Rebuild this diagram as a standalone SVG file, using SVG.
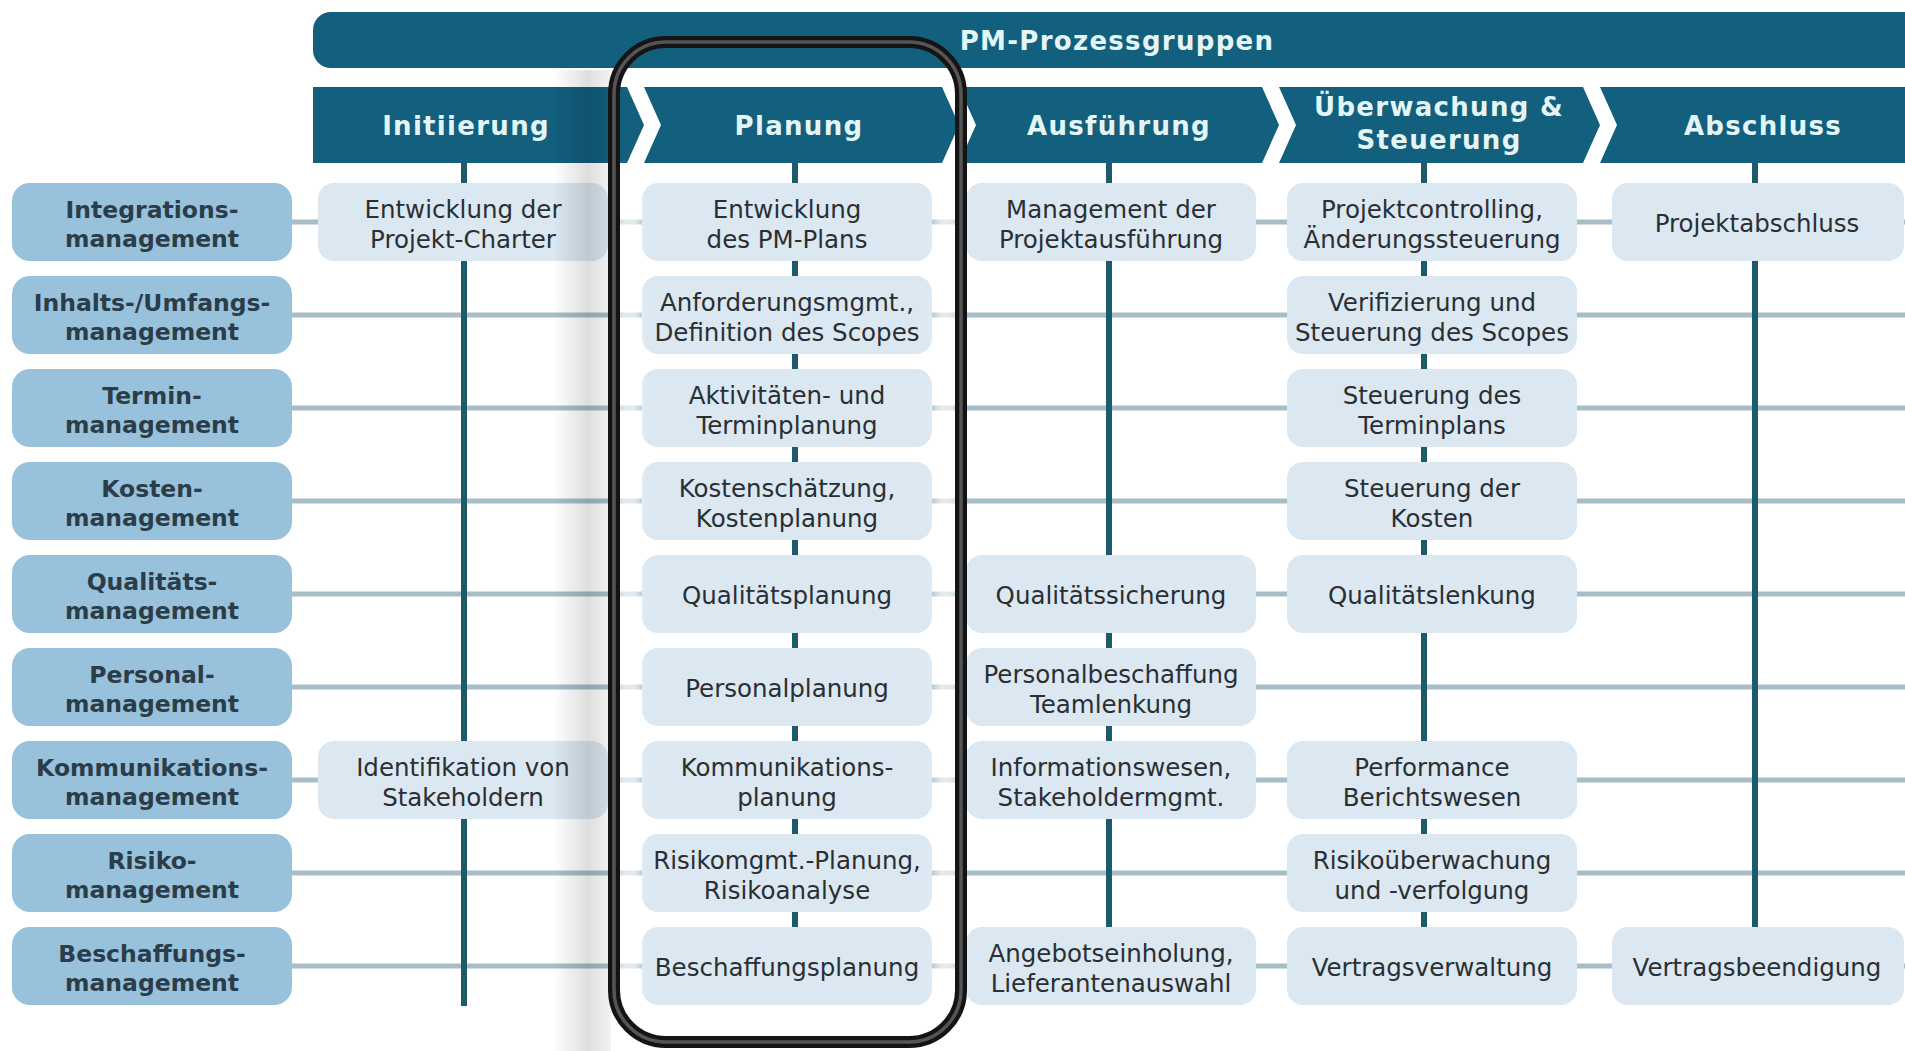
<svg xmlns="http://www.w3.org/2000/svg" width="1905" height="1051" viewBox="0 0 1905 1051">
<defs>
<style>
.hdr{fill:#125f7e}
.hdrt{font-family:"DejaVu Sans","Noto Sans",sans-serif;font-weight:700;font-size:26px;letter-spacing:1.3px;fill:#e3f5f5;text-anchor:middle}
.lbl{fill:#98c1dc}
.lblt{font-family:"DejaVu Sans","Noto Sans",sans-serif;font-weight:700;font-size:23.5px;fill:#2b3d48;text-anchor:middle}
.cell{fill:#dbe7f1}
.cellt{font-family:"DejaVu Sans","Noto Sans",sans-serif;font-size:24.5px;fill:#2a2f33;text-anchor:middle}
.hl{stroke:#a7bdc8;stroke-width:5;fill:none}
.vl{stroke:#1d5a6a;stroke-width:6;fill:none}
</style>
<linearGradient id="shadowGrad" x1="0" y1="0" x2="1" y2="0">
<stop offset="0" stop-color="#000" stop-opacity="0"/>
<stop offset="0.6" stop-color="#000" stop-opacity="0.13"/>
<stop offset="1" stop-color="#000" stop-opacity="0.05"/>
</linearGradient>
<filter id="soft" x="-50%" y="-5%" width="200%" height="110%"><feGaussianBlur stdDeviation="4"/></filter>
</defs>
<rect x="0" y="0" width="1905" height="1051" fill="#ffffff"/>

<g id="connectors">
<line class="hl" x1="292" y1="222" x2="1905" y2="222"/>
<line class="hl" x1="292" y1="315" x2="1905" y2="315"/>
<line class="hl" x1="292" y1="408" x2="1905" y2="408"/>
<line class="hl" x1="292" y1="501" x2="1905" y2="501"/>
<line class="hl" x1="292" y1="594" x2="1905" y2="594"/>
<line class="hl" x1="292" y1="687" x2="1905" y2="687"/>
<line class="hl" x1="292" y1="780" x2="1905" y2="780"/>
<line class="hl" x1="292" y1="873" x2="1905" y2="873"/>
<line class="hl" x1="292" y1="966" x2="1905" y2="966"/>
<line class="vl" x1="464" y1="163" x2="464" y2="1006"/>
<line class="vl" x1="795" y1="163" x2="795" y2="990"/>
<line class="vl" x1="1109" y1="163" x2="1109" y2="990"/>
<line class="vl" x1="1424" y1="163" x2="1424" y2="990"/>
<line class="vl" x1="1755" y1="163" x2="1755" y2="990"/>
</g>

<g id="pm-prozessgruppen">
<path class="hdr" d="M331,12 H1905 V68 H331 A18,18 0 0 1 313,50 V30 A18,18 0 0 1 331,12 Z"/>
<text class="hdrt" x="1117" y="50">PM-Prozessgruppen</text>
</g>

<g id="phase-initiierung">
<path class="hdr" d="M313,87 H627 L644,125 L627,163 H313 Z"/>
<text class="hdrt" x="466" y="135">Initiierung</text>
</g>
<g id="phase-planung">
<path class="hdr" d="M644,87 H942 L959,125 L942,163 H644 L661,125 Z"/>
<text class="hdrt" x="799" y="135">Planung</text>
</g>
<g id="phase-ausfuehrung">
<path class="hdr" d="M959,87 H1262 L1279,125 L1262,163 H959 L976,125 Z"/>
<text class="hdrt" x="1119" y="135">Ausführung</text>
</g>
<g id="phase-ueberwachung">
<path class="hdr" d="M1279,87 H1583 L1600,125 L1583,163 H1279 L1296,125 Z"/>
<text class="hdrt" x="1439" y="116">Überwachung &amp;</text>
<text class="hdrt" x="1439" y="149">Steuerung</text>
</g>
<g id="phase-abschluss">
<path class="hdr" d="M1600,87 H1905 V163 H1600 L1617,125 Z"/>
<text class="hdrt" x="1763" y="135">Abschluss</text>
</g>

<g id="row-integration"><rect class="lbl" x="12" y="183" width="280" height="78" rx="18"/><text class="lblt" x="152" y="218">Integrations-</text><text class="lblt" x="152" y="247">management</text></g>
<g id="row-inhalt"><rect class="lbl" x="12" y="276" width="280" height="78" rx="18"/><text class="lblt" x="152" y="311">Inhalts-/Umfangs-</text><text class="lblt" x="152" y="340">management</text></g>
<g id="row-termin"><rect class="lbl" x="12" y="369" width="280" height="78" rx="18"/><text class="lblt" x="152" y="404">Termin-</text><text class="lblt" x="152" y="433">management</text></g>
<g id="row-kosten"><rect class="lbl" x="12" y="462" width="280" height="78" rx="18"/><text class="lblt" x="152" y="497">Kosten-</text><text class="lblt" x="152" y="526">management</text></g>
<g id="row-qualitaet"><rect class="lbl" x="12" y="555" width="280" height="78" rx="18"/><text class="lblt" x="152" y="590">Qualitäts-</text><text class="lblt" x="152" y="619">management</text></g>
<g id="row-personal"><rect class="lbl" x="12" y="648" width="280" height="78" rx="18"/><text class="lblt" x="152" y="683">Personal-</text><text class="lblt" x="152" y="712">management</text></g>
<g id="row-kommunikation"><rect class="lbl" x="12" y="741" width="280" height="78" rx="18"/><text class="lblt" x="152" y="776">Kommunikations-</text><text class="lblt" x="152" y="805">management</text></g>
<g id="row-risiko"><rect class="lbl" x="12" y="834" width="280" height="78" rx="18"/><text class="lblt" x="152" y="869">Risiko-</text><text class="lblt" x="152" y="898">management</text></g>
<g id="row-beschaffung"><rect class="lbl" x="12" y="927" width="280" height="78" rx="18"/><text class="lblt" x="152" y="962">Beschaffungs-</text><text class="lblt" x="152" y="991">management</text></g>

<g id="c-int-init"><rect class="cell" x="318" y="183" width="290" height="78" rx="16"/><text class="cellt" x="463" y="218">Entwicklung der</text><text class="cellt" x="463" y="248">Projekt-Charter</text></g>
<g id="c-int-plan"><rect class="cell" x="642" y="183" width="290" height="78" rx="16"/><text class="cellt" x="787" y="218">Entwicklung</text><text class="cellt" x="787" y="248">des PM-Plans</text></g>
<g id="c-int-ausf"><rect class="cell" x="966" y="183" width="290" height="78" rx="16"/><text class="cellt" x="1111" y="218">Management der</text><text class="cellt" x="1111" y="248">Projektausführung</text></g>
<g id="c-int-ueb"><rect class="cell" x="1287" y="183" width="290" height="78" rx="16"/><text class="cellt" x="1432" y="218">Projektcontrolling,</text><text class="cellt" x="1432" y="248">Änderungssteuerung</text></g>
<g id="c-int-abs"><rect class="cell" x="1612" y="183" width="292" height="78" rx="16"/><text class="cellt" x="1757" y="232">Projektabschluss</text></g>

<g id="c-inh-plan"><rect class="cell" x="642" y="276" width="290" height="78" rx="16"/><text class="cellt" x="787" y="311">Anforderungsmgmt.,</text><text class="cellt" x="787" y="341">Definition des Scopes</text></g>
<g id="c-inh-ueb"><rect class="cell" x="1287" y="276" width="290" height="78" rx="16"/><text class="cellt" x="1432" y="311">Verifizierung und</text><text class="cellt" x="1432" y="341">Steuerung des Scopes</text></g>

<g id="c-ter-plan"><rect class="cell" x="642" y="369" width="290" height="78" rx="16"/><text class="cellt" x="787" y="404">Aktivitäten- und</text><text class="cellt" x="787" y="434">Terminplanung</text></g>
<g id="c-ter-ueb"><rect class="cell" x="1287" y="369" width="290" height="78" rx="16"/><text class="cellt" x="1432" y="404">Steuerung des</text><text class="cellt" x="1432" y="434">Terminplans</text></g>

<g id="c-kos-plan"><rect class="cell" x="642" y="462" width="290" height="78" rx="16"/><text class="cellt" x="787" y="497">Kostenschätzung,</text><text class="cellt" x="787" y="527">Kostenplanung</text></g>
<g id="c-kos-ueb"><rect class="cell" x="1287" y="462" width="290" height="78" rx="16"/><text class="cellt" x="1432" y="497">Steuerung der</text><text class="cellt" x="1432" y="527">Kosten</text></g>

<g id="c-qua-plan"><rect class="cell" x="642" y="555" width="290" height="78" rx="16"/><text class="cellt" x="787" y="604">Qualitätsplanung</text></g>
<g id="c-qua-ausf"><rect class="cell" x="966" y="555" width="290" height="78" rx="16"/><text class="cellt" x="1111" y="604">Qualitätssicherung</text></g>
<g id="c-qua-ueb"><rect class="cell" x="1287" y="555" width="290" height="78" rx="16"/><text class="cellt" x="1432" y="604">Qualitätslenkung</text></g>

<g id="c-per-plan"><rect class="cell" x="642" y="648" width="290" height="78" rx="16"/><text class="cellt" x="787" y="697">Personalplanung</text></g>
<g id="c-per-ausf"><rect class="cell" x="966" y="648" width="290" height="78" rx="16"/><text class="cellt" x="1111" y="683">Personalbeschaffung</text><text class="cellt" x="1111" y="713">Teamlenkung</text></g>

<g id="c-kom-init"><rect class="cell" x="318" y="741" width="290" height="78" rx="16"/><text class="cellt" x="463" y="776">Identifikation von</text><text class="cellt" x="463" y="806">Stakeholdern</text></g>
<g id="c-kom-plan"><rect class="cell" x="642" y="741" width="290" height="78" rx="16"/><text class="cellt" x="787" y="776">Kommunikations-</text><text class="cellt" x="787" y="806">planung</text></g>
<g id="c-kom-ausf"><rect class="cell" x="966" y="741" width="290" height="78" rx="16"/><text class="cellt" x="1111" y="776">Informationswesen,</text><text class="cellt" x="1111" y="806">Stakeholdermgmt.</text></g>
<g id="c-kom-ueb"><rect class="cell" x="1287" y="741" width="290" height="78" rx="16"/><text class="cellt" x="1432" y="776">Performance</text><text class="cellt" x="1432" y="806">Berichtswesen</text></g>

<g id="c-ris-plan"><rect class="cell" x="642" y="834" width="290" height="78" rx="16"/><text class="cellt" x="787" y="869">Risikomgmt.-Planung,</text><text class="cellt" x="787" y="899">Risikoanalyse</text></g>
<g id="c-ris-ueb"><rect class="cell" x="1287" y="834" width="290" height="78" rx="16"/><text class="cellt" x="1432" y="869">Risikoüberwachung</text><text class="cellt" x="1432" y="899">und -verfolgung</text></g>

<g id="c-bes-plan"><rect class="cell" x="642" y="927" width="290" height="78" rx="16"/><text class="cellt" x="787" y="976">Beschaffungsplanung</text></g>
<g id="c-bes-ausf"><rect class="cell" x="966" y="927" width="290" height="78" rx="16"/><text class="cellt" x="1111" y="962">Angebotseinholung,</text><text class="cellt" x="1111" y="992">Lieferantenauswahl</text></g>
<g id="c-bes-ueb"><rect class="cell" x="1287" y="927" width="290" height="78" rx="16"/><text class="cellt" x="1432" y="976">Vertragsverwaltung</text></g>
<g id="c-bes-abs"><rect class="cell" x="1612" y="927" width="292" height="78" rx="16"/><text class="cellt" x="1757" y="976">Vertragsbeendigung</text></g>

<g id="highlight-frame">
<rect x="553" y="70" width="58" height="981" fill="url(#shadowGrad)"/>
<rect x="618" y="168" width="22" height="870" fill="#ffffff" opacity="0.7" filter="url(#soft)"/>
<rect x="935" y="168" width="22" height="870" fill="#ffffff" opacity="0.7" filter="url(#soft)"/>
<rect x="614" y="42" width="347" height="1000" rx="52" fill="none" stroke="#141414" stroke-width="12"/>
<rect x="614" y="42" width="347" height="1000" rx="52" fill="none" stroke="#555555" stroke-width="3.5"/>
</g>
</svg>
